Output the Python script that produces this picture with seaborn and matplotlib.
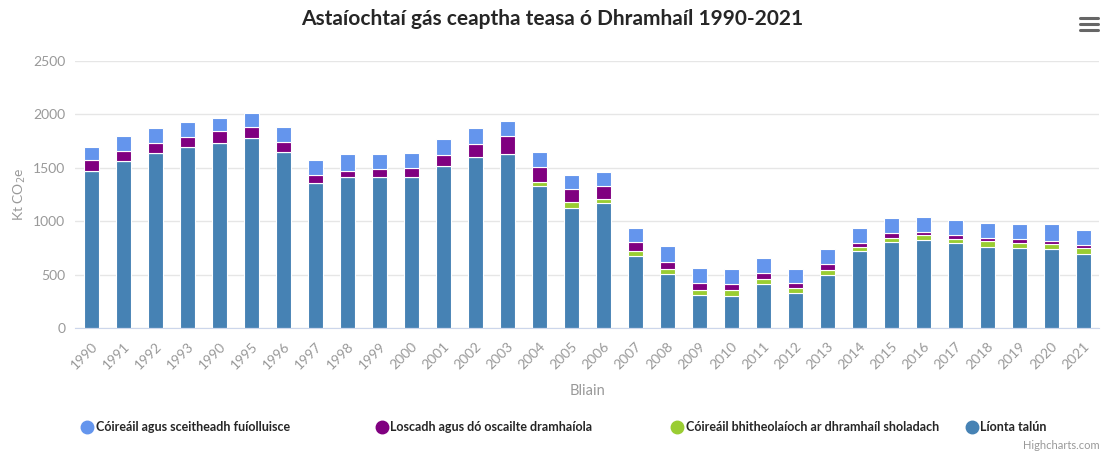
import numpy as np
import pandas as pd
import seaborn as sns
import matplotlib.pyplot as plt
from matplotlib.lines import Line2D

years = list(range(1990, 2022))
tick_labels = ['1990', '1991', '1992', '1993', '1990', '1995', '1996', '1997', '1998', '1999',
               '2000', '2001', '2002', '2003', '2004', '2005', '2006', '2007', '2008', '2009',
               '2010', '2011', '2012', '2013', '2014', '2015', '2016', '2017', '2018', '2019',
               '2020', '2021']

# Kt CO2e
lionta_talun = [1472, 1560, 1638, 1691, 1732, 1778, 1647, 1354, 1410, 1410,
                1410, 1519, 1604, 1629, 1329, 1120, 1173, 674, 502, 309,
                300, 415, 330, 499, 718, 802, 824, 793, 758, 746,
                736, 693]
bhitheolaioch = [0, 0, 0, 0, 0, 0, 0, 0, 0, 0,
                 0, 0, 0, 0, 38, 56, 31, 44, 53, 44,
                 53, 44, 44, 44, 43, 43, 44, 43, 53, 47,
                 47, 53]
loscadh = [97, 97, 96, 97, 109, 106, 97, 78, 62, 75,
           84, 97, 121, 168, 140, 125, 128, 87, 66, 71,
           62, 56, 44, 53, 32, 44, 31, 32, 28, 37,
           31, 31]
fuiolluisce = [128, 140, 135, 137, 128, 124, 137, 137, 153, 140,
               144, 150, 147, 141, 137, 131, 131, 128, 149, 140,
               140, 137, 137, 140, 146, 138, 140, 146, 144, 143,
               159, 140]

series = [
    ('Líonta talún', lionta_talun, '#4682B4'),
    ('Cóireáil bhitheolaíoch ar dhramhaíl sholadach', bhitheolaioch, '#9ACD32'),
    ('Loscadh agus dó oscailte dramhaíola', loscadh, '#800080'),
    ('Cóireáil agus sceitheadh fuíolluisce', fuiolluisce, '#6495ED'),
]

sns.set_style('white')
plt.rcParams['font.family'] = ['Lato', 'DejaVu Sans']

fig = plt.figure(figsize=(11.05, 4.58), dpi=100)
ax = fig.add_axes([0.068, 0.284, 0.927, 0.583])

df = pd.DataFrame({'Bliain': [str(y) for y in years]})
bottom = np.zeros(len(years))
for name, vals, col in series:
    df[name] = vals
    sns.barplot(data=df, x='Bliain', y=name, color=col, bottom=bottom, width=0.47,
                edgecolor='white', linewidth=0.8, saturation=1, ax=ax)
    bottom = bottom + np.array(vals)

ax.set_ylim(0, 2500)
ax.set_xlim(-0.5, len(years) - 0.5)
ax.set_yticks([0, 500, 1000, 1500, 2000, 2500])
ax.yaxis.grid(True, color='#e6e6e6', linewidth=1)
ax.set_axisbelow(True)
for s in ['top', 'right', 'left']:
    ax.spines[s].set_visible(False)
ax.spines['bottom'].set_color('#ccd6eb')
ax.tick_params(axis='y', length=0, labelsize=10, labelcolor='#999999', pad=7)
ax.tick_params(axis='x', length=0, labelsize=10, labelcolor='#999999', pad=9)
ax.set_xticks(range(len(years)))
ax.set_xticklabels(tick_labels, rotation=45, ha='right', rotation_mode='anchor')
ax.set_xlabel('Bliain', fontsize=10.5, color='#999999', labelpad=9)
ax.set_ylabel('Kt CO$_2$e', fontsize=10, color='#999999', labelpad=4)

fig.suptitle('Astaíochtaí gás ceaptha teasa ó Dhramhaíl 1990-2021', fontsize=15,
             fontweight='bold', y=0.98, x=0.5)

# legend, one item per column like the original
legend_order = [series[3], series[2], series[1], series[0]]
xs = [73, 368, 663, 958]
for (name, vals, col), x in zip(legend_order, xs):
    h = Line2D([], [], marker='o', linestyle='', markersize=9, color=col)
    fig.legend([h], [name], loc='center left', bbox_to_anchor=(x / 1105, 1 - 427 / 458),
               frameon=False, prop={'weight': 'bold', 'size': 9}, handletextpad=0.1,
               borderpad=0, handlelength=1.2)

fig.text(0.995, 0.015, 'Highcharts.com', ha='right', va='bottom', fontsize=8, color='#999999')

# export menu icon
for yy in [0.935, 0.948, 0.961]:
    fig.add_artist(Line2D([0.977, 0.994], [yy, yy], color='#666666', linewidth=2.2,
                          solid_capstyle='round'))

fig.savefig('out.png', dpi=100)
